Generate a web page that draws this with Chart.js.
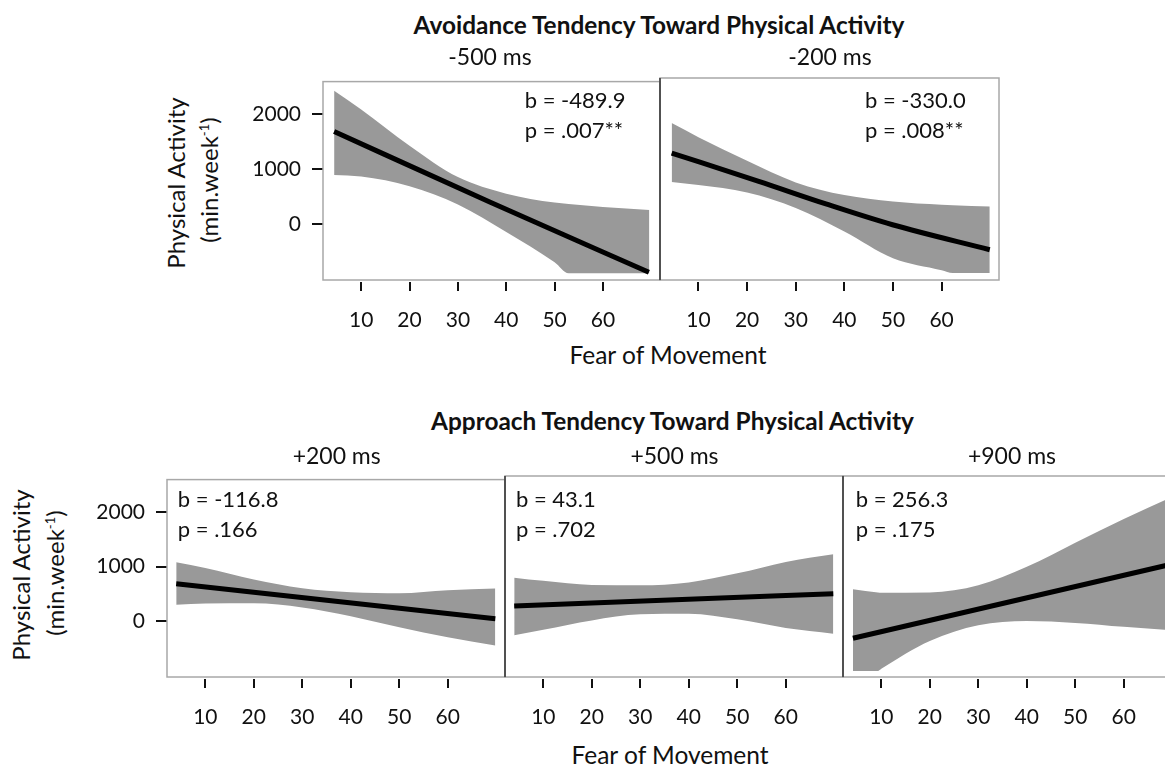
<!DOCTYPE html>
<html lang="en">
<head>
<meta charset="utf-8">
<title>Fear of Movement and Physical Activity</title>
<script src="https://cdn.jsdelivr.net/npm/chart.js@4.4.1/dist/chart.umd.min.js"></script>
<style>
  html, body { margin: 0; padding: 0; background: #fff; }
  body {
    width: 1165px; height: 765px; overflow: hidden; position: relative;
    font-family: Lato, "Open Sans", sans-serif; color: #111;
  }
  canvas.panel { position: absolute; }
  .lbl { position: absolute; white-space: nowrap; line-height: 1; transform: translate(-50%, -50%); }
  .row-title { font-weight: bold; font-size: 24.4px; }
  .strip { font-size: 23px; }
  .axis-title { font-size: 24.5px; }
  .y-title { font-size: 24px; transform: translate(-50%, -50%) rotate(-90deg); }
  .sup { font-size: 13px; position: relative; top: -9px; }
  .stat { position: absolute; font-size: 22px; line-height: 30.5px; white-space: nowrap; }
</style>
</head>
<body>

<div class="lbl row-title" style="left:659px; top:24.5px">Avoidance Tendency Toward Physical Activity</div>
<div class="lbl axis-title" style="left:668px; top:355px">Fear of Movement</div>
<div class="lbl y-title" style="left:175.5px; top:183px">Physical Activity</div>
<div class="lbl y-title" style="left:209px; top:180px">(min.week<span class="sup">-1</span>)</div>

<div class="lbl row-title" style="left:672.5px; top:421px">Approach Tendency Toward Physical Activity</div>
<div class="lbl axis-title" style="left:670px; top:755px">Fear of Movement</div>
<div class="lbl y-title" style="left:20.5px; top:575px">Physical Activity</div>
<div class="lbl y-title" style="left:54.5px; top:573px">(min.week<span class="sup">-1</span>)</div>

<script>
// axis ticks
const fearTicks = [10, 20, 30, 40, 50, 60];
const activityTicks = [0, 1000, 2000];

// avoidance -500 ms
const avoid500FitFear = [4.4, 36.7, 69.5];
const avoid500Fit     = [1689, 395, -883];
const avoid500Fear    = [4.4, 10, 20, 30, 40, 50, 52.9, 60, 69.6];
const avoid500Upper   = [2431, 2090, 1428, 855, 553, 390, 363, 309, 252];
const avoid500Lower   = [894, 864, 689, 355, -146, -700, -901, -901, -901];

// avoidance -200 ms
const avoid200FitFear = [4.5, 22.4, 36.2, 49.9, 69.9];
const avoid200Fit     = [1253, 745, 340, -34, -482];
const avoid200Fear    = [4.5, 10, 20, 30, 40, 50, 60, 62.3, 69.9];
const avoid200Upper   = [1791, 1538, 1113, 726, 499, 385, 327, 318, 296];
const avoid200Lower   = [732, 678, 545, 268, -155, -635, -851, -901, -901];

// approach +200 ms
const approach200FitFear = [4.0, 69.8];
const approach200Fit     = [689, 45];
const approach200Fear    = [4.0, 10, 20, 30, 40, 50, 60, 69.8];
const approach200Upper   = [1080, 975, 767, 607, 533, 515, 570, 599];
const approach200Lower   = [304, 325, 328, 252, 91, -112, -295, -448];

// approach +500 ms
const approach500FitFear = [4.0, 69.8];
const approach500Fit     = [256, 478];
const approach500Fear    = [4.0, 10, 20, 30, 40, 50, 60, 69.8];
const approach500Upper   = [767, 710, 636, 629, 681, 844, 1050, 1187];
const approach500Lower   = [-273, -172, -4, 105, 115, 15, -140, -243];

// approach +900 ms
const approach900FitFear = [4.15, 69.8];
const approach900Fit     = [-327, 1008];
const approach900Fear    = [4.15, 9.3, 10, 20, 30, 40, 50, 60, 69.8];
const approach900Upper   = [557, 500, 495, 500, 629, 962, 1397, 1824, 2215];
const approach900Lower   = [-916, -916, -876, -377, -93, -15, -50, -120, -183];

const stripLabels = ['-500 ms', '-200 ms', '+200 ms', '+500 ms', '+900 ms'];
const slopes = ['-489.9', '-330.0', '-116.8', '43.1', '256.3'];
const pValues = ['.007**', '.008**', '.166', '.702', '.175'];

const FONT = 'Lato, "Open Sans", sans-serif';
const INK = '#111';

// where each panel frame sits on the page
const panels = [
  { fitFear: avoid500FitFear, fit: avoid500Fit, fear: avoid500Fear, upper: avoid500Upper, lower: avoid500Lower,
    x: 323, y: 78, w: 337, h: 202, yAxis: true, divider: false, strip: [490, 55.5], stat: [524.7, 84.5] },
  { fitFear: avoid200FitFear, fit: avoid200Fit, fear: avoid200Fear, upper: avoid200Upper, lower: avoid200Lower,
    x: 660, y: 78, w: 339, h: 202, yAxis: false, divider: true, strip: [830, 55.5], stat: [865, 84.5] },
  { fitFear: approach200FitFear, fit: approach200Fit, fear: approach200Fear, upper: approach200Upper, lower: approach200Lower,
    x: 167, y: 476, w: 338, h: 201, yAxis: true, divider: false, strip: [336.7, 454.5], stat: [177.8, 483.5] },
  { fitFear: approach500FitFear, fit: approach500Fit, fear: approach500Fear, upper: approach500Upper, lower: approach500Lower,
    x: 505, y: 476, w: 338, h: 201, yAxis: false, divider: true, strip: [674.5, 454.5], stat: [516, 483.5] },
  { fitFear: approach900FitFear, fit: approach900Fit, fear: approach900Fear, upper: approach900Upper, lower: approach900Lower,
    x: 843, y: 476, w: 338, h: 201, yAxis: false, divider: true, strip: [1012, 454.5], stat: [855.7, 483.5] },
];

const panelFrame = {
  id: 'panelFrame',
  afterDatasetsDraw(chart, args, opts) {
    const { ctx, chartArea: { left, top, right, bottom } } = chart;
    ctx.save();
    ctx.strokeStyle = '#a8a8a8';
    ctx.lineWidth = 1.5;
    ctx.strokeRect(left, top, right - left, bottom - top);
    if (opts.divider) {
      ctx.strokeStyle = '#333';
      ctx.beginPath();
      ctx.moveTo(left, top);
      ctx.lineTo(left, bottom);
      ctx.stroke();
    }
    ctx.restore();
  }
};

const pts = (xs, ys) => xs.map((x, i) => ({ x, y: ys[i] }));

panels.forEach((p, i) => {
  const padL = p.yAxis ? 100 : 20, padT = 20, padR = 20, axisH = 60;

  const canvas = document.createElement('canvas');
  canvas.className = 'panel';
  canvas.width = padL + p.w + padR;
  canvas.height = padT + p.h + axisH;
  canvas.style.left = (p.x - padL) + 'px';
  canvas.style.top = (p.y - padT) + 'px';
  document.body.appendChild(canvas);

  const strip = document.createElement('div');
  strip.className = 'lbl strip';
  strip.style.left = p.strip[0] + 'px';
  strip.style.top = p.strip[1] + 'px';
  strip.textContent = stripLabels[i];
  document.body.appendChild(strip);

  const stat = document.createElement('div');
  stat.className = 'stat';
  stat.style.left = p.stat[0] + 'px';
  stat.style.top = p.stat[1] + 'px';
  stat.innerHTML = 'b = ' + slopes[i] + '<br>p = ' + pValues[i];
  document.body.appendChild(stat);

  new Chart(canvas, {
    type: 'line',
    data: {
      datasets: [
        { data: pts(p.fitFear, p.fit), borderColor: '#000', borderWidth: 5, pointRadius: 0,
          fill: false, cubicInterpolationMode: 'monotone' },
        { data: pts(p.fear, p.upper), borderColor: 'rgba(0,0,0,0)', borderWidth: 0, pointRadius: 0,
          backgroundColor: '#999999', fill: '+1', cubicInterpolationMode: 'monotone' },
        { data: pts(p.fear, p.lower), borderColor: 'rgba(0,0,0,0)', borderWidth: 0, pointRadius: 0,
          fill: false, cubicInterpolationMode: 'monotone' },
      ]
    },
    options: {
      responsive: false,
      animation: false,
      devicePixelRatio: 1,
      layout: { padding: { left: 0, top: padT, right: padR, bottom: 0 } },
      plugins: {
        legend: { display: false },
        tooltip: { enabled: false },
        panelFrame: { divider: p.divider },
      },
      scales: {
        x: {
          type: 'linear',
          min: 2.1,
          max: 71.8,
          afterBuildTicks: s => { s.ticks = fearTicks.map(v => ({ value: v })); },
          afterFit: s => { s.height = axisH; },
          ticks: { font: { family: FONT, size: 21 }, color: INK, padding: 17, maxRotation: 0,
                   autoSkip: false, callback: v => String(v) },
          grid: { drawOnChartArea: false, tickLength: 11, color: INK, lineWidth: 2 },
          border: { display: true, width: 4, color: 'rgba(0,0,0,0)' },
        },
        y: {
          display: p.yAxis,
          min: -1025,
          max: 2600,
          afterBuildTicks: s => { s.ticks = activityTicks.map(v => ({ value: v })); },
          afterFit: s => { s.width = padL; },
          ticks: { font: { family: FONT, size: 21 }, color: INK, padding: 11, callback: v => String(v) },
          grid: { drawOnChartArea: false, tickLength: 11, color: INK, lineWidth: 2 },
          border: { display: false },
        }
      }
    },
    plugins: [panelFrame]
  });
});
</script>
</body>
</html>
